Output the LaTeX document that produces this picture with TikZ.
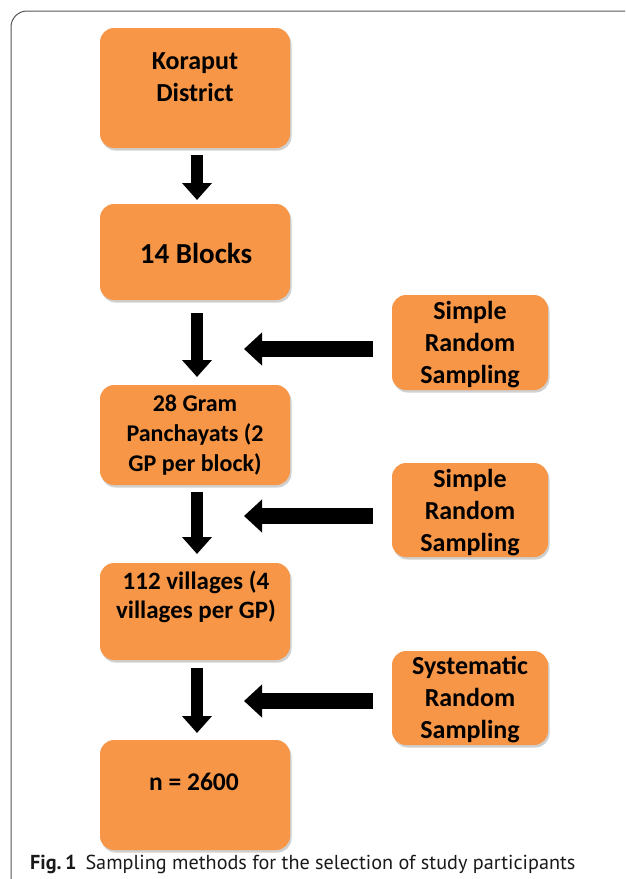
\documentclass[tikz,border=0pt]{standalone}
\usepackage{fontspec}
\setmainfont{Carlito}
\newfontfamily\capfont{PT Sans}
\usetikzlibrary{arrows.meta,positioning}
\definecolor{boxorange}{HTML}{F79646}
\definecolor{shadowgray}{HTML}{D0D0D0}
\definecolor{framegray}{HTML}{555555}
\tikzset{
  box/.style={fill=boxorange, rounded corners=14pt, draw=none, inner sep=0pt},
  boxtext/.style={font=\fontsize{26}{32}\selectfont\bfseries, align=center, text=black, inner sep=0pt},
  downarrow/.style={line width=12pt, -{Triangle[width=29pt,length=17pt]}},
  leftarrow/.style={line width=16pt, -{Triangle[width=32pt,length=18pt]}},
}
\begin{document}
\begin{tikzpicture}[x=1pt,y=-1pt]
\useasboundingbox (0,0) rectangle (625,879);
% frame
\draw[framegray, line width=1pt] (11,879) -- (11,27) arc[start angle=180, end angle=270, radius=16] -- (625,11);
% shadows
\foreach \a/\b/\c/\d in {100/28/290/148, 100/204/290/300, 100/385/290/485, 100/563/290/660, 100/740/290/850, 392/295/548/390, 392/463/548/557, 392/651/548/745}{
  \fill[shadowgray, rounded corners=14pt] (\a+1.5,\b+2.5) rectangle (\c+1.5,\d+2.5);
}
% main boxes
\node[box, minimum width=190pt, minimum height=120pt] (k) at (195,88) {};
\node[box, minimum width=190pt, minimum height=96pt] (b) at (195,252) {};
\node[box, minimum width=190pt, minimum height=100pt] (g) at (195,435) {};
\node[box, minimum width=190pt, minimum height=97pt] (v) at (195,611.5) {};
\node[box, minimum width=190pt, minimum height=110pt] (n) at (195,795) {};
% side boxes
\node[box, minimum width=156pt, minimum height=95pt] (s1) at (470,342.5) {};
\node[box, minimum width=156pt, minimum height=94pt] (s2) at (470,510) {};
\node[box, minimum width=156pt, minimum height=94pt] (s3) at (470,698) {};
% texts
\node[boxtext] (kt) at (195,77) {Koraput\\District};
\node[boxtext, font=\fontsize{29}{32}\selectfont\bfseries] (bt) at (196,253) {14 Blocks};
\node[boxtext, font=\fontsize{24}{30}\selectfont\bfseries] (gt) at (195,435) {28 Gram\\Panchayats (2\\GP per block)};
\node[boxtext, font=\fontsize{25}{29}\selectfont\bfseries] (vt) at (196,597) {112 villages (4\\villages per GP)};
\node[boxtext, font=\fontsize{25.5}{32}\selectfont\bfseries] (nt) at (194,782) {n = 2600};
\node[boxtext] (s1t) at (470,345) {Simple\\Random\\Sampling};
\node[boxtext] (s2t) at (470,513) {Simple\\Random\\Sampling};
\node[boxtext] (s3t) at (470,700) {Systematic\\Random\\Sampling};
% arrow anchor coordinates
\coordinate (d1a) at (197,155); \coordinate (d1b) at (197,200);
\coordinate (d2a) at (197,313); \coordinate (d2b) at (197,377);
\coordinate (d3a) at (197,492); \coordinate (d3b) at (197,554);
\coordinate (d4a) at (197,668); \coordinate (d4b) at (197,733);
\coordinate (l1a) at (373,349); \coordinate (l1b) at (244,349);
\coordinate (l2a) at (373,516); \coordinate (l2b) at (244,516);
\coordinate (l3a) at (373,701); \coordinate (l3b) at (244,701);
\draw[downarrow] (d1a) -- (d1b);
\draw[downarrow] (d2a) -- (d2b);
\draw[downarrow] (d3a) -- (d3b);
\draw[downarrow] (d4a) -- (d4b);
\draw[leftarrow] (l1a) -- (l1b);
\draw[leftarrow] (l2a) -- (l2b);
\draw[leftarrow] (l3a) -- (l3b);
% caption
\node[anchor=base west, inner sep=0pt, text=black!90, font=\capfont\fontsize{20.2}{24}\selectfont] (cap) at (30,869) {\textbf{Fig.\,1}\hspace{9pt}Sampling methods for the selection of study participants};
\end{tikzpicture}
\end{document}
